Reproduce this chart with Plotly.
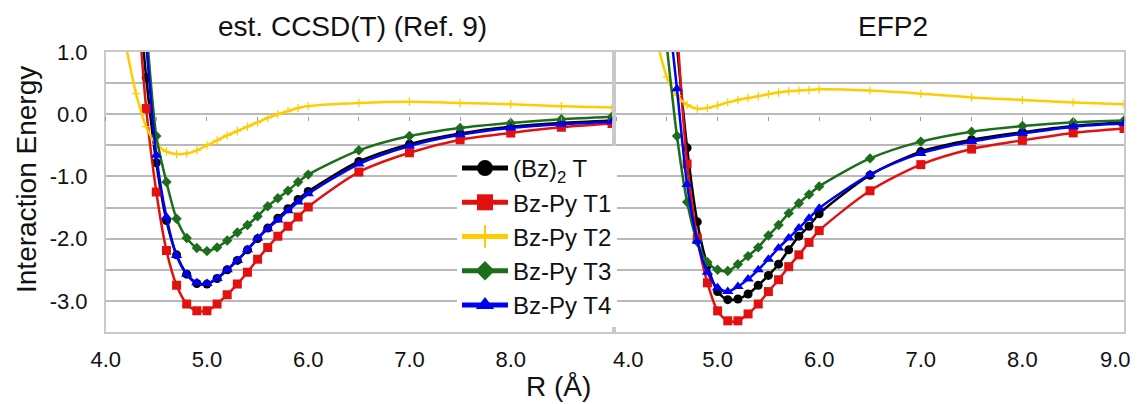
import plotly.graph_objects as go

# ---------------- data ----------------
R = [4.2, 4.3, 4.4, 4.5, 4.6, 4.7, 4.8, 4.9, 5.0, 5.1, 5.2, 5.3, 5.4, 5.5, 5.6,
     5.7, 5.8, 5.9, 6.0, 6.5, 7.0, 7.5, 8.0, 8.5, 9.0]

series_names = ["(Bz)<sub>2</sub> T", "Bz-Py T1", "Bz-Py T2", "Bz-Py T3", "Bz-Py T4"]

# est. CCSD(T) (Ref. 9)
ccsd_bz2 = [None, 2.4, 0.59, -0.78, -1.71, -2.26, -2.57, -2.72, -2.73, -2.64, -2.50, -2.35, -2.18, -2.00, -1.83,
            -1.67, -1.52, -1.37, -1.24, -0.76, -0.48, -0.31, -0.20, -0.14, -0.10]
ccsd_t1 = [None, 2.2, 0.09, -1.25, -2.19, -2.75, -3.05, -3.16, -3.16, -3.05, -2.90, -2.73, -2.54, -2.33, -2.14,
           -1.96, -1.80, -1.65, -1.49, -0.93, -0.62, -0.41, -0.30, -0.21, -0.15]
ccsd_t2 = [1.10, 0.33, -0.20, -0.48, -0.60, -0.64, -0.63, -0.58, -0.50, -0.42, -0.34, -0.27, -0.20, -0.13, -0.06,
           0.00, 0.05, 0.10, 0.13, 0.18, 0.20, 0.18, 0.16, 0.13, 0.11]
ccsd_t3 = [None, 3.2, 1.40, -0.35, -1.09, -1.68, -1.99, -2.15, -2.20, -2.14, -2.03, -1.90, -1.78, -1.64, -1.48,
           -1.35, -1.23, -1.09, -0.97, -0.58, -0.35, -0.22, -0.14, -0.08, -0.04]
ccsd_t4 = [None, None, 1.15, -0.66, -1.65, -2.27, -2.57, -2.71, -2.72, -2.64, -2.50, -2.35, -2.18, -1.99, -1.84,
           -1.70, -1.55, -1.41, -1.28, -0.80, -0.51, -0.33, -0.22, -0.16, -0.12]

# EFP2
efp_bz2 = [None, None, None, None, 1.10, -0.54, -1.73, -2.43, -2.85, -2.98, -2.97, -2.89, -2.75, -2.59, -2.41,
           -2.18, -1.96, -1.80, -1.60, -0.98, -0.60, -0.41, -0.29, -0.19, -0.13]
efp_t1 = [None, None, None, None, 1.40, -0.80, -1.99, -2.71, -3.16, -3.32, -3.32, -3.21, -3.05, -2.85, -2.66,
          -2.45, -2.26, -2.06, -1.87, -1.23, -0.81, -0.56, -0.42, -0.30, -0.23]
efp_t2 = [None, None, 1.20, 0.60, 0.30, 0.15, 0.09, 0.10, 0.14, 0.19, 0.23, 0.26, 0.29, 0.32, 0.35,
          0.37, 0.38, 0.39, 0.40, 0.38, 0.33, 0.27, 0.23, 0.19, 0.16]
efp_t3 = [None, None, None, 1.10, -0.35, -1.41, -2.05, -2.38, -2.50, -2.52, -2.41, -2.28, -2.14, -1.95, -1.78,
          -1.59, -1.43, -1.29, -1.16, -0.71, -0.44, -0.28, -0.19, -0.13, -0.10]
efp_t4 = [None, None, None, 1.90, 0.41, -1.13, -2.04, -2.54, -2.79, -2.85, -2.77, -2.65, -2.50, -2.33, -2.15,
          -1.99, -1.83, -1.67, -1.51, -0.97, -0.63, -0.44, -0.31, -0.20, -0.15]

y_tickvals = [-3, -2, -1, 0, 1]
y_ticktext = ["-3.0", "-2.0", "-1.0", "0.0", "1.0"]
x_tickvals_left = [4, 5, 6, 7, 8]
x_ticktext_left = ["4.0", "5.0", "6.0", "7.0", "8.0"]
x_tickvals_right = [5, 6, 7, 8]
x_ticktext_right = ["5.0", "6.0", "7.0", "8.0"]
# right-panel edge labels (nudged inwards, as in the reference)
x_edge_vals_right = [4, 9]
x_edge_text_right = ["4.0", "9.0"]

panel_titles = ["est. CCSD(T) (Ref. 9)", "EFP2"]
x_title = "R (Å)"
y_title = "Interaction Energy"

# ---------------- styles ----------------
FONT = "Liberation Sans, Arial, Helvetica, sans-serif"
TXT = "#111111"
colors = ["#000000", "#e31010", "#ffcc00", "#1c6e1c", "#0000f0"]
symbols = ["circle", "square", "cross-thin-open", "diamond", "triangle-up"]
msizes = [9, 9, 6, 8, 10]
legend_msizes = [16, 16, 16, 15, 16]
edge_shift = [12, -9]

left_data = [ccsd_bz2, ccsd_t1, ccsd_t2, ccsd_t3, ccsd_t4]
right_data = [efp_bz2, efp_t1, efp_t2, efp_t3, efp_t4]

fig = go.Figure()


def add_series(idx, ys, xa, ya):
    c = colors[idx]
    marker = dict(symbol=symbols[idx], size=msizes[idx], color=c)
    if symbols[idx].endswith("open"):
        marker["line"] = dict(color=c, width=1.2)
    fig.add_trace(go.Scatter(
        x=R, y=ys, mode="lines+markers", xaxis=xa, yaxis=ya,
        line=dict(color=c, width=2.5, shape="spline", smoothing=0.8),
        marker=marker, showlegend=False, legendgroup=str(idx),
        hoverinfo="skip"))


for i in range(5):
    add_series(i, left_data[i], "x", "y")
for i in range(5):
    add_series(i, right_data[i], "x2", "y2")

# legend-only entries (bigger symbols like the reference legend)
for i in range(5):
    c = colors[i]
    marker = dict(symbol="line-ns" if i == 2 else symbols[i], size=legend_msizes[i], color=c)
    if i == 2:
        marker["line"] = dict(color=c, width=2)
    fig.add_trace(go.Scatter(
        x=[None], y=[None], mode="lines+markers", name=series_names[i],
        line=dict(color=c, width=5), marker=marker,
        legendgroup=str(i), showlegend=True, xaxis="x", yaxis="y"))

# empty traces for the tick axes at y = 0
fig.add_trace(go.Scatter(x=[], y=[], xaxis="x3", yaxis="y", showlegend=False))
fig.add_trace(go.Scatter(x=[], y=[], xaxis="x4", yaxis="y2", showlegend=False))

W, H = 1137, 404
left_dom = [105.7 / W, 612 / W]
right_dom = [616 / W, 1124 / W]
y_dom = [1 - 332 / H, 1 - 52 / H]
zero_pos = 1 - 115.7 / H

grid_col = "#b9b9b9"
line_col = "#c9c9c9"
tick_font = dict(family=FONT, size=22, color=TXT)

common_y = dict(range=[-3.5, 1.0], domain=y_dom, showgrid=True, gridcolor=grid_col, gridwidth=1.5,
                zeroline=False, showline=True, mirror=True, linecolor=line_col, linewidth=1.5,
                minor=dict(tickvals=[-3.5, -2.5, -1.5, -0.5, 0.5], showgrid=True,
                           gridcolor=grid_col, gridwidth=1.5),
                fixedrange=True, automargin=False)
common_x = dict(range=[4.0, 9.0], showgrid=False, zeroline=False, showline=True, mirror=True,
                linecolor=line_col, linewidth=1.5, ticks="outside", ticklen=7,
                tickcolor="rgba(0,0,0,0)", tickfont=tick_font, fixedrange=True, automargin=False)
tick_axis = dict(anchor="free", position=zero_pos, range=[4.0, 9.0], dtick=0.5, tick0=4,
                 ticks="outside", ticklen=4, tickcolor="#9a9a9a", tickwidth=1, showticklabels=False,
                 showgrid=False, zeroline=False, showline=False, fixedrange=True, automargin=False)

annotations = [
    dict(text=panel_titles[0], x=352 / W, y=1 - 26 / H, xref="paper", yref="paper",
         xanchor="center", yanchor="middle",
         showarrow=False, font=dict(family=FONT, size=28, color=TXT)),
    dict(text=panel_titles[1], x=893 / W, y=1 - 26 / H, xref="paper", yref="paper",
         xanchor="center", yanchor="middle",
         showarrow=False, font=dict(family=FONT, size=28, color=TXT)),
    dict(text=x_title, x=558 / W, y=1 - 386 / H, xref="paper", yref="paper",
         xanchor="center", yanchor="middle",
         showarrow=False, font=dict(family=FONT, size=28, color=TXT)),
    dict(text=y_title, x=27 / W, y=1 - 180 / H, xref="paper", yref="paper", textangle=-90,
         xanchor="center", yanchor="middle",
         showarrow=False, font=dict(family=FONT, size=28, color=TXT)),
]
for v, t, s in zip(x_edge_vals_right, x_edge_text_right, edge_shift):
    annotations.append(dict(text=t, x=v, xref="x2", y=y_dom[0], yref="paper", yanchor="top",
                            xanchor="center", yshift=-13, xshift=s, showarrow=False,
                            font=tick_font))

fig.update_layout(
    width=W, height=H,
    margin=dict(l=0, r=0, t=0, b=0, autoexpand=False),
    paper_bgcolor="white", plot_bgcolor="white",
    font=dict(family=FONT, size=18, color=TXT),
    xaxis=dict(domain=left_dom, anchor="y", tickvals=x_tickvals_left, ticktext=x_ticktext_left, **common_x),
    xaxis2=dict(domain=right_dom, anchor="y2", tickvals=x_tickvals_right, ticktext=x_ticktext_right, **common_x),
    yaxis=dict(anchor="x", tickvals=y_tickvals, ticktext=y_ticktext, tickfont=tick_font,
               ticks="outside", ticklen=12, tickcolor="rgba(0,0,0,0)", **common_y),
    yaxis2=dict(anchor="x2", showticklabels=False, **common_y),
    xaxis3=dict(overlaying="x", **tick_axis),
    xaxis4=dict(overlaying="x2", **tick_axis),
    legend=dict(x=457 / W, y=1 - 146 / H, xanchor="left", yanchor="top", bgcolor="white",
                borderwidth=0, font=dict(family=FONT, size=24, color=TXT),
                itemwidth=46, tracegroupgap=0, traceorder="grouped"),
    showlegend=True,
    annotations=annotations,
)

fig.write_html("out.html")
